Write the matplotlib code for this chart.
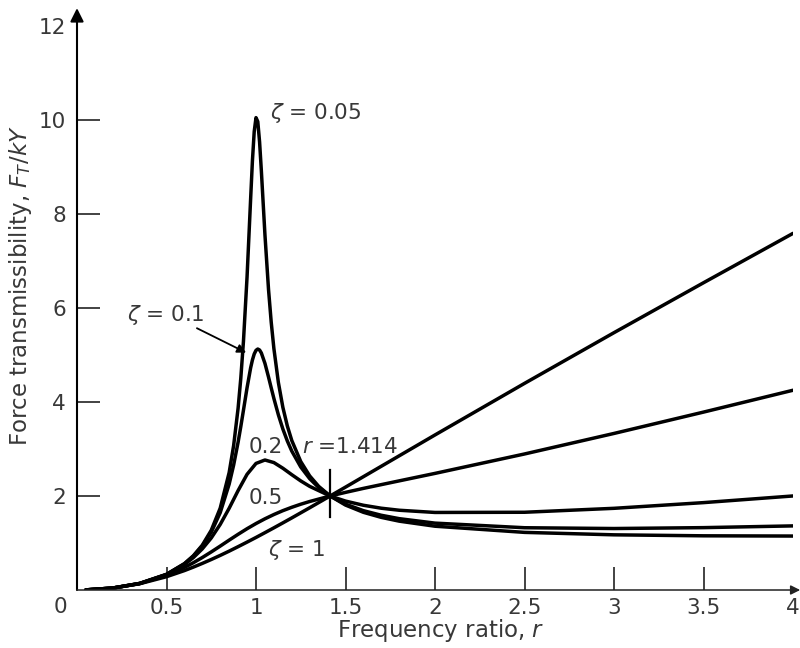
import matplotlib
matplotlib.use("Agg")
import matplotlib.pyplot as plt

plt.rcParams['font.family'] = ['DejaVu Sans']
plt.rcParams['mathtext.fontset'] = 'dejavusans'

# frequency ratio samples (fine grid for the sharp peaks)
r_fine = [0.05, 0.2, 0.35, 0.5, 0.6, 0.65, 0.7, 0.75, 0.8, 0.85, 0.875, 0.9, 0.915, 0.93,
          0.95, 0.97, 0.98, 0.99, 1.0, 1.01, 1.02, 1.03, 1.05, 1.07, 1.085, 1.1, 1.125,
          1.15, 1.175, 1.2, 1.25, 1.3, 1.35, 1.414, 1.5, 1.6, 1.7, 1.8, 2.0, 2.5, 3.0,
          3.5, 4.0]
r_coarse = [0.05, 0.2, 0.35, 0.5, 0.6, 0.65, 0.7, 0.75, 0.8, 0.85, 0.9, 0.95, 1.0, 1.05,
            1.1, 1.15, 1.2, 1.25, 1.3, 1.414, 1.5, 1.6, 1.7, 1.8, 2.0, 2.5, 3.0, 3.5, 4.0]

# force transmissibility
t_005 = [0.0025, 0.0417, 0.1396, 0.333, 0.561, 0.729, 0.954, 1.271, 1.741, 2.498, 3.072,
         3.868, 4.502, 5.296, 6.660, 8.322, 9.130, 9.753, 10.05, 9.966, 9.533, 8.913,
         7.555, 6.392, 5.698, 5.135, 4.415, 3.888, 3.490, 3.180, 2.733, 2.427, 2.206,
         2.001, 1.807, 1.653, 1.545, 1.465, 1.357, 1.226, 1.174, 1.153, 1.148]
t_01 = [0.0025, 0.0417, 0.1395, 0.332, 0.557, 0.720, 0.936, 1.230, 1.645, 2.252, 2.657,
        3.145, 3.475, 3.827, 4.302, 4.726, 4.894, 5.021, 5.099, 5.127, 5.106, 5.042,
        4.821, 4.530, 4.300, 4.074, 3.727, 3.426, 3.171, 2.955, 2.617, 2.368, 2.181,
        2.001, 1.827, 1.688, 1.590, 1.518, 1.423, 1.325, 1.308, 1.327, 1.364]
t_02 = [0.0025, 0.0417, 0.1392, 0.329, 0.542, 0.689, 0.875, 1.107, 1.395, 1.739, 2.115,
        2.461, 2.693, 2.766, 2.711, 2.591, 2.453, 2.321, 2.205, 2.000, 1.892, 1.803,
        1.740, 1.697, 1.650, 1.654, 1.738, 1.859, 2.001]
t_05 = [0.0025, 0.0416, 0.1374, 0.310, 0.479, 0.580, 0.691, 0.810, 0.934, 1.061, 1.185,
        1.304, 1.414, 1.515, 1.606, 1.688, 1.760, 1.825, 1.883, 2.000, 2.077, 2.162,
        2.242, 2.322, 2.481, 2.894, 3.331, 3.785, 4.250]
t_1 = [0.0025, 0.0414, 0.1332, 0.283, 0.413, 0.487, 0.566, 0.649, 0.736, 0.827, 0.922,
       1.019, 1.118, 1.220, 1.323, 1.428, 1.534, 1.642, 1.750, 2.000, 2.189, 2.411,
       2.633, 2.855, 3.299, 4.396, 5.475, 6.537, 7.588]

x_ticks = [0.5, 1, 1.5, 2, 2.5, 3, 3.5, 4]
x_labels = ["0.5", "1", "1.5", "2", "2.5", "3", "3.5", "4"]
y_ticks = [2, 4, 6, 8, 10, 12]
y_labels = ["2", "4", "6", "8", "10", "12"]

txt = "#383838"
fs = 15.5
fig = plt.figure(figsize=(8, 6.48), dpi=100)
ax = fig.add_axes([0.09625, 0.0895, 0.895, 0.8704])

lw = 2.5
for rr, tt in [(r_fine, t_005), (r_fine, t_01), (r_coarse, t_02),
               (r_coarse, t_05), (r_coarse, t_1)]:
    ax.plot(rr, tt, color="black", lw=lw, solid_joinstyle="round", solid_capstyle="round")

ax.set_xlim(0, 4)
ax.set_ylim(0, 12)
for s in ax.spines.values():
    s.set_visible(False)

# axes with arrow heads
ax.annotate("", xy=(0, 12.38), xytext=(0, 0), annotation_clip=False,
            arrowprops=dict(arrowstyle="-|>", color="black", lw=1.5, mutation_scale=20,
                            shrinkA=0, shrinkB=0))
ax.annotate("", xy=(4.04, 0), xytext=(0, 0), annotation_clip=False,
            arrowprops=dict(arrowstyle="-|>", color="#222222", lw=1.1, mutation_scale=14,
                            shrinkA=0, shrinkB=0))

ax.set_xticks(x_ticks)
ax.set_xticklabels(x_labels)
ax.set_yticks(y_ticks)
ax.set_yticklabels(y_labels)
ax.tick_params(axis="both", direction="in", length=16.5, width=1.2, color="#222222",
               labelsize=fs, labelcolor=txt)
ax.tick_params(axis="x", pad=6)
ax.tick_params(axis="y", pad=8)
ax.xaxis.get_major_ticks()[-1].tick1line.set_visible(False)
ax.yaxis.get_major_ticks()[-1].tick1line.set_visible(False)
ax.text(-0.095, -0.36, "0", ha="center", va="center", fontsize=fs, color=txt,
        clip_on=False)

ax.set_xlabel("Frequency ratio, $r$", fontsize=16.5, color=txt)
ax.set_ylabel("Force transmissibility, $F_T/kY$", fontsize=16.5, color=txt)
ax.xaxis.set_label_coords(0.508, -0.048)
ax.yaxis.set_label_coords(-0.06, 0.54)

# curve labels
ax.text(1.078, 10.15, r"$\zeta$ = 0.05", fontsize=fs, color=txt, va="center")
ax.text(0.28, 5.85, r"$\zeta$ = 0.1", fontsize=fs, color=txt, va="center")
ax.annotate("", xy=(0.945, 5.05), xytext=(0.67, 5.57),
            arrowprops=dict(arrowstyle="-|>", color="black", lw=1.3, mutation_scale=13,
                            shrinkA=0, shrinkB=0))
ax.text(1.055, 3.04, "0.2", fontsize=fs, color=txt, ha="center", va="center")
ax.text(1.055, 1.96, "0.5", fontsize=fs, color=txt, ha="center", va="center")
ax.text(1.067, 0.85, r"$\zeta$ = 1", fontsize=fs, color=txt, va="center")
ax.text(1.257, 3.04, "$r$ =1.414", fontsize=fs, color=txt, va="center")
ax.plot([1.414, 1.414], [1.55, 2.55], color="black", lw=1.6)

fig.savefig("out.png", dpi=100)
